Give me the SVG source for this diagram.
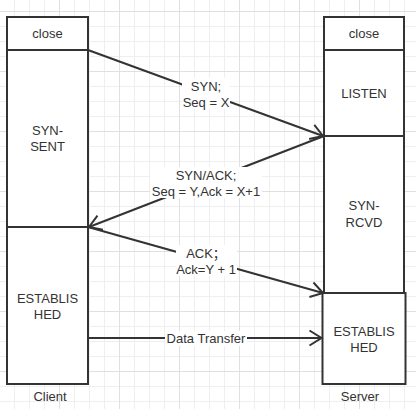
<svg xmlns="http://www.w3.org/2000/svg" width="416" height="409" viewBox="0 0 416 409">
  <defs>
    <pattern id="minor" patternUnits="userSpaceOnUse" x="14" y="11" width="15" height="15">
      <path d="M0 0.5H15M0.5 0V15" stroke="#efefef" stroke-width="1" fill="none"/>
    </pattern>
    <pattern id="major" patternUnits="userSpaceOnUse" x="59" y="11" width="60" height="60">
      <path d="M0 0.5H60M0.5 0V60" stroke="#e0e0e0" stroke-width="1" fill="none"/>
    </pattern>
    <marker id="open" markerUnits="userSpaceOnUse" markerWidth="20" markerHeight="20" viewBox="-14 -10 16 20" refX="0" refY="0" orient="auto" overflow="visible">
      <path d="M-12,-7.5 L0,0 L-12,7.5" fill="none" stroke="#333" stroke-width="2"/>
    </marker>
  </defs>
  <style>
    .box { fill: #ffffff; stroke: #333333; stroke-width: 2; }
    .t { font-family: "Liberation Sans", Arial, "Noto Sans CJK SC", sans-serif; font-size: 13px; fill: #333333; text-anchor: middle; }
    .edge { fill: none; stroke: #333333; stroke-width: 2; }
    .lbg { fill: #ffffff; }
  </style>
  <rect x="0" y="0" width="416" height="409" fill="#ffffff"/>
  <rect x="0" y="0" width="416" height="409" fill="url(#minor)"/>
  <rect x="0" y="0" width="416" height="409" fill="url(#major)"/>

  <g id="client-close">
    <rect class="box" x="7" y="17" width="81" height="33"/>
    <text class="t" x="47.5" y="38">close</text>
  </g>
  <g id="client-syn-sent">
    <rect class="box" x="7" y="50" width="81" height="177"/>
    <text class="t" x="47.5" y="135">SYN-</text>
    <text class="t" x="47.5" y="151">SENT</text>
  </g>
  <g id="client-established">
    <rect class="box" x="7" y="227" width="81" height="157"/>
    <text class="t" x="47.5" y="303">ESTABLIS</text>
    <text class="t" x="47.5" y="319">HED</text>
  </g>
  <g id="client-label">
    <text class="t" x="50" y="401">Client</text>
  </g>

  <g id="server-close">
    <rect class="box" x="324" y="17" width="80" height="33"/>
    <text class="t" x="364" y="38">close</text>
  </g>
  <g id="server-listen">
    <rect class="box" x="324" y="50" width="80" height="86"/>
    <text class="t" x="364" y="98">LISTEN</text>
  </g>
  <g id="server-syn-rcvd">
    <rect class="box" x="324" y="136" width="80" height="157"/>
    <text class="t" x="364" y="210">SYN-</text>
    <text class="t" x="364" y="227">RCVD</text>
  </g>
  <g id="server-established">
    <rect class="box" x="322.5" y="293" width="83" height="91"/>
    <text class="t" x="364" y="336">ESTABLIS</text>
    <text class="t" x="364" y="352">HED</text>
  </g>
  <g id="server-label">
    <text class="t" x="360" y="401">Server</text>
  </g>

  <g id="connectors">
    <g id="e-syn">
      <line class="edge" x1="88" y1="50" x2="323" y2="136" marker-end="url(#open)"/>
      <rect class="lbg" x="182" y="78" width="48" height="31"/>
      <text class="t" x="206" y="91">SYN;</text>
      <text class="t" x="206" y="107">Seq = X</text>
    </g>
    <g id="e-synack">
      <line class="edge" x1="324" y1="136" x2="89" y2="227" marker-end="url(#open)"/>
      <rect class="lbg" x="150" y="167" width="112" height="31"/>
      <text class="t" x="206" y="179.5">SYN/ACK;</text>
      <text class="t" x="206" y="195.5">Seq = Y,Ack = X+1</text>
    </g>
    <g id="e-ack">
      <line class="edge" x1="88" y1="227" x2="323" y2="293" marker-end="url(#open)"/>
      <rect class="lbg" x="176" y="245" width="61" height="31"/>
      <text class="t" x="206" y="257.5">ACK；</text>
      <text class="t" x="206" y="273.5">Ack=Y + 1</text>
    </g>
    <g id="e-data">
      <line class="edge" x1="88" y1="338" x2="321.5" y2="338" marker-end="url(#open)"/>
      <rect class="lbg" x="165" y="331" width="82" height="15"/>
      <text class="t" x="206" y="342.5">Data Transfer</text>
    </g>
  </g>
</svg>
